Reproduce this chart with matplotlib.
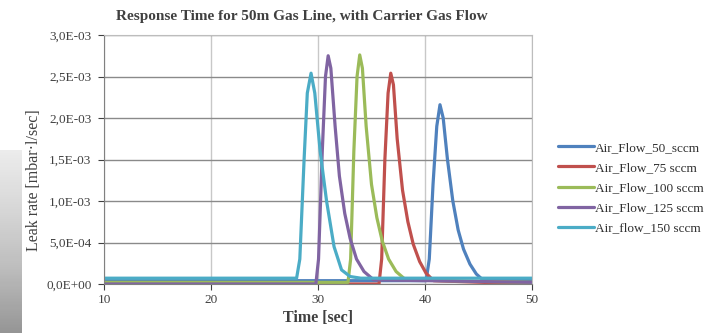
import matplotlib
matplotlib.use("Agg")
import matplotlib.pyplot as plt
import numpy as np
from matplotlib.ticker import FuncFormatter, MultipleLocator

plt.rcParams['font.family'] = ['Liberation Serif', 'DejaVu Serif']

labels = ["Air_Flow_50_sccm", "Air_Flow_75 sccm", "Air_Flow_100 sccm",
          "Air_Flow_125 sccm", "Air_flow_150 sccm"]
colors = ["#4F81BD", "#C0504D", "#9BBB59", "#8064A2", "#4BACC6"]

t50 = [10, 40.1, 40.4, 40.75, 41.1, 41.4, 41.7, 42.1, 42.6, 43.1, 43.6, 44.2, 44.8, 45.4, 50]
v50 = [0.04, 0.04, 0.3, 1.2, 1.9, 2.16, 2.0, 1.5, 1.0, 0.65, 0.42, 0.24, 0.12, 0.05, 0.05]
t75 = [10, 35.7, 35.95, 36.25, 36.55, 36.8, 37.05, 37.4, 37.9, 38.4, 38.9, 39.5, 40.1, 40.8, 50]
v75 = [0.0, 0.0, 0.3, 1.5, 2.3, 2.54, 2.4, 1.75, 1.13, 0.75, 0.48, 0.27, 0.13, 0.04, 0.0]
t100 = [10, 32.8, 33.05, 33.35, 33.65, 33.9, 34.15, 34.5, 35.0, 35.5, 36.0, 36.6, 37.3, 38.2, 50]
v100 = [0.02, 0.02, 0.3, 1.6, 2.5, 2.76, 2.6, 1.9, 1.2, 0.8, 0.52, 0.3, 0.15, 0.05, 0.02]
t125 = [10, 29.8, 30.05, 30.4, 30.7, 30.95, 31.2, 31.6, 32.0, 32.5, 33.0, 33.6, 34.3, 35.2, 50]
v125 = [0.0, 0.0, 0.3, 1.6, 2.5, 2.75, 2.6, 1.9, 1.3, 0.85, 0.55, 0.3, 0.15, 0.05, 0.02]
t150 = [10, 28.0, 28.3, 28.7, 29.0, 29.35, 29.7, 30.2, 30.8, 31.5, 32.2, 33.0, 34.0, 50]
v150 = [0.07, 0.07, 0.3, 1.5, 2.3, 2.54, 2.3, 1.6, 1.0, 0.45, 0.17, 0.09, 0.07, 0.07]

times = [t50, t75, t100, t125, t150]
values = [v50, v75, v100, v125, v150]

fig = plt.figure(figsize=(7.13, 3.33), dpi=100)

# left gray gradient artifact
gax = fig.add_axes([0, 0, 22/713, 0.55])
grad = np.linspace(0, 1, 100).reshape(-1, 1)
gax.imshow(grad, aspect='auto', cmap='Greys', vmin=-0.4, vmax=2.4, origin='upper')
gax.axis('off')

ax = fig.add_axes([104/713, 49/333, 428/713, 249/333])
for t, v, c, l in zip(times, values, colors, labels):
    ax.plot(t, np.array(v) * 1e-3, color=c, lw=2.3, label=l, solid_capstyle='round')

ax.set_xlim(10, 50)
ax.set_ylim(0, 3.0e-3)
ax.xaxis.set_major_locator(MultipleLocator(10))
ax.yaxis.set_major_locator(MultipleLocator(5e-4))
ax.yaxis.set_major_formatter(FuncFormatter(lambda v, p: f"{v:.1E}".replace('.', ',')))
ax.grid(axis='y', color='#8a8a8a', lw=1.0)
ax.grid(axis='x', color='#c8c8c8', lw=1.0)
ax.set_axisbelow(True)
for s in ['top', 'right']:
    ax.spines[s].set_color('#bdbdbd')
for s in ['left', 'bottom']:
    ax.spines[s].set_color('#808080')
ax.tick_params(axis='both', labelsize=9.5, colors='#404040', length=4, width=0.8)
ax.tick_params(axis='x', pad=3)
ax.tick_params(axis='y', pad=5)

ax.set_xlabel("Time [sec]", fontsize=11.5, fontweight='bold', color='#404040', labelpad=3)
fig.text(34/713, 1 - 180/333, "Leak rate [mbar·l/sec]", rotation=90, ha='center', va='center',
         fontsize=11.5, color='#404040')
fig.suptitle("Response Time for 50m Gas Line, with Carrier Gas Flow", x=0.424, y=0.97,
             fontsize=11, fontweight='bold', color='#404040')

fig.legend(loc='center left', bbox_to_anchor=(558/713, 1 - 188/333), frameon=False,
           fontsize=9.5, handlelength=2.7, handletextpad=0.1, labelspacing=0.6,
           borderpad=0, borderaxespad=0, labelcolor='#303030')

fig.savefig("out.png", dpi=100)
